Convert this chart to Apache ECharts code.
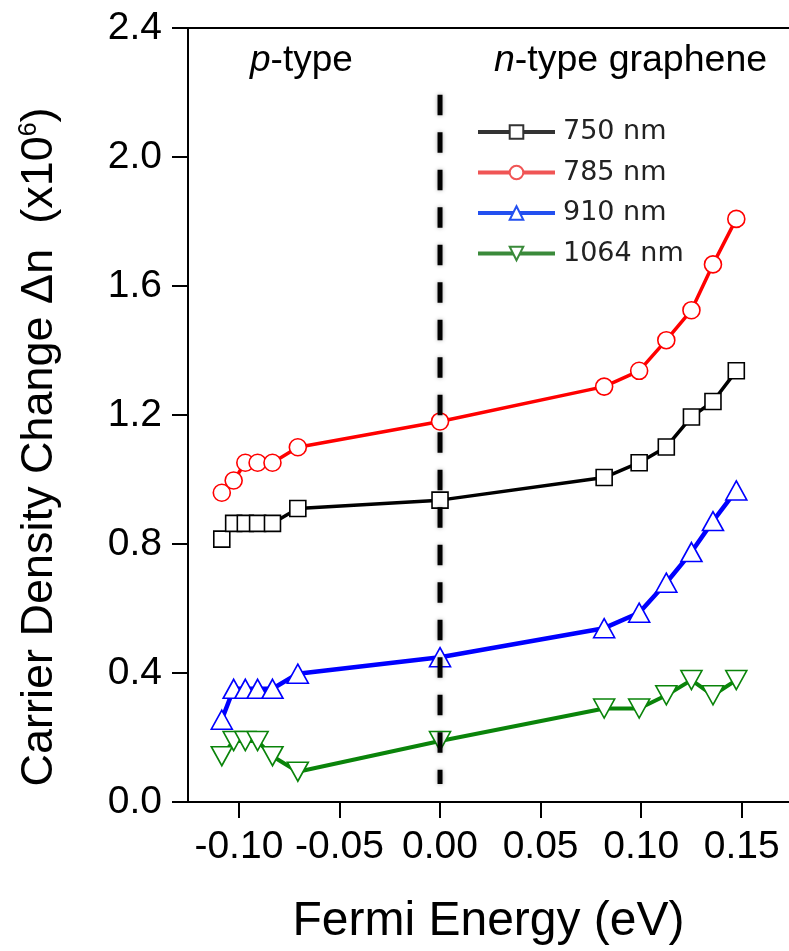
<!DOCTYPE html>
<html><head><meta charset="utf-8">
<script src="https://cdn.jsdelivr.net/npm/echarts@6/dist/echarts.min.js"></script>
<style>html,body{margin:0;padding:0;background:#fff}#c{width:789px;height:951px}</style>
</head><body><div id="c"></div>
<script>
// Fermi energy (eV) of the measured points, shared by all series
const fermiEnergy = [-0.1085, -0.1026, -0.0968, -0.0907, -0.0833, -0.0707, 0.0, 0.0816, 0.0990, 0.1125, 0.1250, 0.1357, 0.1473];
// Carrier density change (x10^6)
const n750  = [0.815, 0.864, 0.864, 0.864, 0.864, 0.910, 0.936, 1.006, 1.052, 1.101, 1.194, 1.242, 1.337];
const n785  = [0.959, 0.997, 1.052, 1.052, 1.052, 1.100, 1.180, 1.288, 1.337, 1.432, 1.525, 1.667, 1.808];
const n910  = [0.255, 0.351, 0.351, 0.351, 0.351, 0.398, 0.449, 0.539, 0.587, 0.680, 0.775, 0.871, 0.966];
const n1064 = [0.142, 0.189, 0.189, 0.189, 0.142, 0.094, 0.189, 0.290, 0.290, 0.331, 0.378, 0.331, 0.378];
const seriesNames = ['750 nm', '785 nm', '910 nm', '1064 nm'];
const xTicks = [-0.10, -0.05, 0.00, 0.05, 0.10, 0.15];
const yMin = 0, yMax = 2.4, yStep = 0.4;
const dividerLine = [[0, 2.193], [0, 0.0555]];

const FONT = 'Liberation Sans, Arial, sans-serif';
const pair = arr => fermiEnergy.map((x, i) => [x, arr[i]]);

function mk(name, data, color, symbol, size, lw, rot) {
  return {
    type: 'line', name, data: pair(data),
    symbol, symbolSize: size, symbolRotate: rot || 0,
    lineStyle: { color, width: lw },
    itemStyle: { color: '#fff', borderColor: color, borderWidth: 1.6 },
    z: 2, animation: false, silent: true
  };
}

const chart = echarts.init(document.getElementById('c'), null, { renderer: 'canvas' });
chart.setOption({
  backgroundColor: '#fff',
  animation: false,
  grid: { left: 188, right: 0, top: 28, bottom: 145, containLabel: false },
  legend: {
    orient: 'vertical', left: 476, top: 117, padding: 0,
    itemWidth: 77, itemHeight: 17, itemGap: 10.5,
    textStyle: { fontFamily: 'DejaVu Sans, sans-serif', fontSize: 27, color: '#222', padding: [0, 0, 0, 3], lineHeight: 30 },
    data: [
      { name: seriesNames[0], lineStyle: { color: '#333', width: 4 }, itemStyle: { borderColor: '#333' } },
      { name: seriesNames[1], lineStyle: { color: '#f05555', width: 4 }, itemStyle: { borderColor: '#f05555' } },
      { name: seriesNames[2], lineStyle: { color: '#2350f0', width: 4 }, itemStyle: { borderColor: '#2350f0' } },
      { name: seriesNames[3], lineStyle: { color: '#3a8a3a', width: 4 }, itemStyle: { borderColor: '#3a8a3a' } }
    ]
  },
  xAxis: [{
    type: 'value', min: -0.1253, max: 0.1735, position: 'bottom',
    axisLine: { onZero: false, lineStyle: { color: '#000', width: 2 } },
    axisTick: { show: true, customValues: xTicks, length: 16, lineStyle: { color: '#000', width: 2 } },
    axisLabel: { customValues: xTicks, formatter: v => v.toFixed(2), fontSize: 39, fontFamily: FONT, color: '#000', margin: 26 },
    splitLine: { show: false },
    name: 'Fermi Energy (eV)', nameLocation: 'middle', nameGap: 96,
    nameTextStyle: { fontSize: 48, fontFamily: FONT, color: '#000' }
  }, {
    type: 'value', min: -0.1253, max: 0.1735, position: 'top',
    axisLine: { show: true, onZero: false, lineStyle: { color: '#000', width: 2 } },
    axisTick: { show: false }, axisLabel: { show: false }, splitLine: { show: false }
  }],
  yAxis: {
    type: 'value', min: yMin, max: yMax, interval: yStep,
    axisLine: { show: true, onZero: false, lineStyle: { color: '#000', width: 2 } },
    axisTick: { show: true, length: 16, lineStyle: { color: '#000', width: 2 } },
    axisLabel: { formatter: v => v.toFixed(1), fontSize: 39, fontFamily: FONT, color: '#000', margin: 26 },
    splitLine: { show: false },
    name: '{a|Carrier Density Change \u0394n  (x10}{s|6}{a|)}', nameLocation: 'middle', nameGap: 126, nameRotate: 90,
    nameTextStyle: {
      fontSize: 45, fontFamily: FONT, color: '#000', padding: [0, 64, 0, 0],
      rich: { a: { fontSize: 45, fontFamily: FONT, color: '#000' }, s: { fontSize: 25, fontFamily: FONT, color: '#000', verticalAlign: 'top' } }
    }
  },
  graphic: [
    { type: 'text', left: 250, top: 42, silent: true,
      style: { text: '{i|p}-type', fontSize: 37, fontFamily: FONT, fill: '#000',
        rich: { i: { fontStyle: 'italic', fontSize: 37, fontFamily: FONT, color: '#000' } } } },
    { type: 'text', left: 494, top: 42, silent: true,
      style: { text: '{i|n}-type graphene', fontSize: 37.5, fontFamily: FONT, fill: '#000',
        rich: { i: { fontStyle: 'italic', fontSize: 37.5, fontFamily: FONT, color: '#000' } } } }
  ],
  series: [
    mk(seriesNames[0], n750, '#000000', 'rect', 16, 3.5, 0),
    mk(seriesNames[1], n785, '#ff0000', 'circle', 17, 3.5, 0),
    mk(seriesNames[2], n910, '#0000ff', 'triangle', [21, 19], 4.5, 0),
    mk(seriesNames[3], n1064, '#0a840a', 'triangle', [21, 19], 4, 180),
    {
      type: 'line', name: 'divider', data: dividerLine, symbol: 'none', silent: true, z: 10,
      lineStyle: { color: '#000', width: 5, type: [20.5, 17], shadowBlur: 4, shadowColor: 'rgba(0,0,0,0.35)' }
    }
  ]
});
</script>
</body></html>
